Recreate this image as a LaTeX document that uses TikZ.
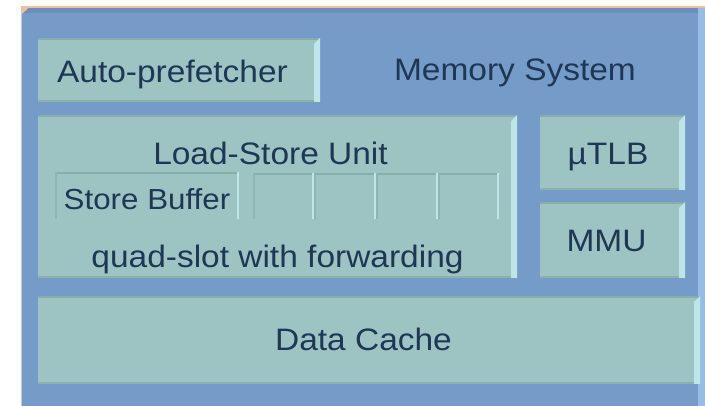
\documentclass[tikz,border=0pt]{standalone}
\usepackage{fontspec}
\setmainfont{Liberation Sans}
\usetikzlibrary{calc}
\definecolor{panelblue}{HTML}{759BC8}
\definecolor{paneldark}{HTML}{6A8FBC}
\definecolor{panellight}{HTML}{98BCE2}
\definecolor{boxfill}{HTML}{9DC4C2}
\definecolor{bevlight}{HTML}{BEE6E8}
\definecolor{bevdark}{HTML}{88AEAC}
\definecolor{textcol}{HTML}{1E3755}
\definecolor{peach}{HTML}{EFC09A}
\definecolor{edgegrey}{HTML}{C8C8C8}
\tikzset{
  panel/.style={fill=panelblue, draw=none, inner sep=0, outer sep=0, anchor=north west},
  raised/.style={fill=boxfill, draw=none, inner sep=0, outer sep=0, anchor=north west,
    path picture={
      \fill[bevdark] (path picture bounding box.north west) rectangle ($(path picture bounding box.north east)+(0,2)$);
      \fill[bevlight] (path picture bounding box.north east) -- ++(-6,6) -- ($(path picture bounding box.south east)+(-6,0)$) -- (path picture bounding box.south east) -- cycle;
      \fill[bevdark!80!boxfill] (path picture bounding box.south west) rectangle ($(path picture bounding box.south east)+(-6,-2)$);
    }},
  sunken/.style={fill=boxfill, draw=none, inner sep=0, outer sep=0, anchor=north west,
    path picture={
      \fill[bevdark] (path picture bounding box.north west) rectangle ($(path picture bounding box.north east)+(0,2)$);
      \fill[bevdark!70!boxfill] (path picture bounding box.north west) rectangle ($(path picture bounding box.south west)+(1.5,0)$);
      \fill[bevlight] (path picture bounding box.north east) rectangle ($(path picture bounding box.south east)+(-2,0)$);
    }},
  txt/.style={text=textcol, font=\fontsize{31}{31}\selectfont, xscale=1.08, inner sep=0, anchor=base},
  smalltxt/.style={txt, font=\fontsize{29}{29}\selectfont}
}
\begin{document}
\begin{tikzpicture}[x=1pt, y=-1pt]
\useasboundingbox (0,0) rectangle (705,406);
\fill[white] (0,0) rectangle (705,406);
% outer panel
\node[panel, minimum width=684pt, minimum height=399pt] (sys) at (21,7) {};
\fill[paneldark] (21,8) rectangle (705,13);
\fill[panellight] (698,8) -- (705,8) -- (705,406) -- (698,406) -- cycle;
\fill[peach] (21,6.5) rectangle (705,8.5);
\fill[peach] (21,6.5) -- (30,6.5) -- (21,15) -- cycle;
\fill[edgegrey] (20.5,8) rectangle (22,406);
% boxes
\node[raised, minimum width=282pt, minimum height=64pt] (ap) at (38,38) {};
\node[raised, minimum width=479pt, minimum height=163pt] (lsu) at (38,115) {};
\node[raised, minimum width=145pt, minimum height=75pt] (tlb) at (540,115) {};
\node[raised, minimum width=145pt, minimum height=76pt] (mmu) at (540,202) {};
\node[raised, minimum width=662pt, minimum height=88pt] (dc) at (38,296) {};
\node[sunken, minimum width=184pt, minimum height=47pt] (sb) at (55,172) {};
\node[sunken, minimum width=61pt, minimum height=46pt] (s1) at (253,173) {};
\node[sunken, minimum width=62pt, minimum height=46pt] (s2) at (314,173) {};
\node[sunken, minimum width=62pt, minimum height=46pt] (s3) at (376,173) {};
\node[sunken, minimum width=61pt, minimum height=46pt] (s4) at (438,173) {};
% texts
\node[txt] (tap) at (172.5,83) {Auto-prefetcher};
\node[txt] (tsys) at (515,81) {Memory System};
\node[txt] (tlsu) at (270.5,165) {Load-Store Unit};
\node[smalltxt] (tsb) at (147,210) {Store Buffer};
\node[txt] (tquad) at (277.5,268) {quad-slot with forwarding};
\node[txt] (ttlb) at (608,165) {µTLB};
\node[txt] (tmmu) at (606.5,252) {MMU};
\node[txt] (tdc) at (363.5,351) {Data Cache};
\end{tikzpicture}
\end{document}
